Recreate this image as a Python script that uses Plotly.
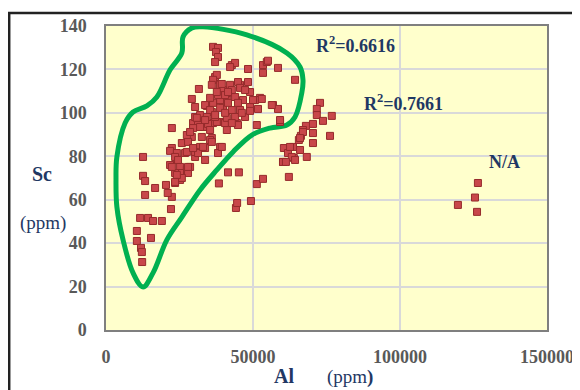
import plotly.graph_objects as go

# Al (ppm) and Sc (ppm) sample values
al = [
    10500, 10500, 11900, 12200, 12300, 15300, 11600, 14300, 16000, 19000, 22100, 22400,
    21000, 13300, 16700, 20400, 23500, 12600, 12600, 13300,
    44200, 44600, 49300, 41500, 45200, 38400, 51300, 53400, 62200, 60200, 22400, 22400, 21800,
    24100, 26900, 24100, 21800, 25200, 27500, 25200, 23500, 25200, 27900, 33700, 30300, 32000,
    33700, 30300, 38800, 36000, 32600, 29200, 27500, 25800, 27900, 35400, 38100, 31300, 27500,
    28600, 25800, 36000, 39400,
    41100, 44500, 39800, 36400, 33700, 31300, 29600, 33300, 31300, 29600, 34700, 37700, 40500,
    44900, 51300, 59200, 30300,
    36400, 38100, 37400, 38100, 37100, 42800, 43900, 42200, 48300, 53400, 54700, 53400, 58500,
    64300, 31600, 29200, 30300, 34300, 36000, 37100, 37700, 36400, 36000, 38800, 42200, 45600,
    44900, 48300, 45600, 49000, 52400, 56800, 58500, 59200, 39800, 41500, 43900, 46600, 44900,
    41100, 38800, 36400, 33700, 35400, 35400, 32000, 30900, 34300, 37100, 39800, 42800, 45600,
    43900, 41100, 47300, 49000, 50700, 51700, 49000, 40500, 42800, 47300, 38100, 55100,
    39400, 37700, 41500, 53000, 56400, 41500, 38800, 37100, 40500, 46200, 33700, 42800,
    32000, 35400, 28600, 29600, 33000, 23500, 24500, 22400, 27900, 24100, 23500, 50000,
    72800, 71700, 71700, 76800, 73800, 70400, 68000, 67000, 70400, 66300, 65600, 70400, 76200,
    60500, 63600, 66000, 63900, 60200, 68300, 61900, 63200, 64300, 61200, 67000, 66000, 62600,
    119700, 125500, 126500, 126200,
]
sc = [
    45.6, 41.0, 37.8, 35.9, 31.3, 42.4, 51.6, 51.6, 50.2, 50.2, 55.7, 61.3,
    63.1, 62.2, 65.4, 66.8, 67.7, 79.7, 71.0, 68.6,
    56.2, 58.5, 59.4, 72.6, 72.6, 67.5, 67.2, 69.6, 70.5, 77.4, 93.0, 83.8, 82.5,
    81.5, 81.5, 78.3, 76.0, 75.1, 73.7, 72.3, 72.3, 69.1, 72.3, 78.3, 79.7, 84.3,
    83.8, 82.0, 84.3, 88.4, 88.9, 88.9, 89.8, 86.1, 86.6, 87.5, 81.5, 81.5, 82.0,
    75.1, 70.0, 86.6, 84.3,
    92.1, 95.3, 95.8, 95.3, 95.3, 95.3, 95.3, 93.5, 94.4, 93.0, 94.9, 95.8, 95.3,
    94.4, 94.4, 95.8, 98.1,
    130.4, 129.9, 128.0, 125.7, 123.4, 122.0, 123.0, 121.1, 120.2, 122.0, 123.4, 118.4, 120.7,
    115.2, 111.0, 106.4, 102.7, 103.2, 100.4, 116.5, 117.5, 115.2, 112.9, 112.9, 112.9, 112.9,
    114.2, 114.2, 111.5, 109.6, 106.9, 103.6, 101.8, 96.7, 110.5, 109.2, 107.3, 105.9, 104.6,
    105.9, 105.9, 104.6, 103.6, 106.9, 101.3, 99.0, 97.7, 98.1, 98.1, 102.3, 101.3, 101.3,
    98.1, 97.7, 98.1, 102.7, 105.9, 101.8, 100.9, 108.2, 110.5, 110.5, 108.2, 124.0,
    113.3, 109.6, 109.6, 106.4, 103.6, 104.6, 102.3, 99.0, 100.0, 100.0, 96.7, 95.3,
    93.5, 92.1, 91.2, 83.8, 84.3, 79.7, 78.3, 75.1, 75.1, 71.4, 68.2, 105.9,
    104.6, 101.8, 99.0, 98.6, 96.3, 94.9, 94.0, 92.1, 90.7, 89.4, 87.5, 86.1, 89.4,
    83.8, 84.3, 82.9, 79.2, 77.4, 79.7, 81.5, 79.7, 78.3, 77.4, 91.2, 88.4, 84.3,
    57.6, 61.0, 67.7, 54.4,
]

# hand-drawn green outline around the main group (Al, Sc)
outline_al = [12600, 9200, 5800, 3700, 3400, 3700, 6500, 9200, 13900, 17300, 21800, 25800,
              26200, 29200, 33000, 47900, 61500, 66000, 67000, 66600, 64300, 61500, 55800,
              49600, 43200, 37700, 32000, 25800, 20700, 16000, 12600]
outline_sc = [19.8, 26.3, 41.5, 56.7, 69.1, 79.7, 95.3, 100.4, 103.2, 107.3, 119.8, 127.6,
              135.0, 139.1, 139.6, 135.9, 127.6, 121.1, 115.2, 109.2, 98.1, 94.4, 93.0,
              89.8, 82.0, 73.7, 64.5, 52.0, 41.5, 26.3, 19.8]

x_ticks = [0, 50000, 100000, 150000]
y_ticks = [0, 20, 40, 60, 80, 100, 120, 140]

navy = "#1F3864"
serif = "Liberation Serif"

fig = go.Figure()
fig.add_trace(go.Scatter(
    x=outline_al, y=outline_sc, mode="lines",
    line=dict(color="#00B050", width=5, shape="spline", smoothing=1.0),
    cliponaxis=False, hoverinfo="skip", showlegend=False))
fig.add_trace(go.Scatter(
    x=al, y=sc, mode="markers",
    marker=dict(symbol="square", size=7, color="#C8474A",
                line=dict(color="#962B2C", width=1)),
    showlegend=False))

# the page body has an 8px margin, so the figure is sized/placed to compensate
fig.update_layout(
    width=572, height=382,
    margin=dict(l=98, r=33, t=18, b=60),
    paper_bgcolor="white", plot_bgcolor="#FFFFCC",
    font=dict(family=serif),
    xaxis=dict(range=[0, 150000], tickvals=x_ticks, ticktext=[str(v) for v in x_ticks],
               showgrid=True, gridcolor="#D9D9D9", gridwidth=1.5, automargin=False,
               showline=True, linecolor="#7F7F7F", linewidth=1.5, mirror=True,
               zeroline=False, ticks="", ticklabelstandoff=10,
               tickfont=dict(family=serif, size=18, color="#595959", weight="bold")),
    yaxis=dict(range=[0, 140], tickvals=y_ticks, automargin=False,
               showgrid=True, gridcolor="#D9D9D9", gridwidth=1.5,
               showline=True, linecolor="#7F7F7F", linewidth=1.5, mirror=True,
               zeroline=False, ticks="", ticklabelstandoff=14,
               tickfont=dict(family=serif, size=18, color="#595959", weight="bold")),
)

fig.add_shape(type="rect", xref="paper", yref="paper",
              x0=-0.2195, x1=1.09, y0=-0.25, y1=1.043,
              line=dict(color="#222222", width=2.5), layer="above")

ann = [
    dict(text="<b>R<sup>2</sup>=0.6616</b>", x=85000, y=131.3, xref="x", yref="y", size=18),
    dict(text="<b>R<sup>2</sup>=0.7661</b>", x=101300, y=104.6, xref="x", yref="y", size=18),
    dict(text="<b>N/A</b>", x=135700, y=77.4, xref="x", yref="y", size=18),
    dict(text="<b>Sc</b>", x=-0.144, y=0.513, xref="paper", yref="paper", size=20),
    dict(text="(ppm)", x=-0.143, y=0.352, xref="paper", yref="paper", size=19),
    dict(text="<b>Al</b>", x=0.404, y=-0.151, xref="paper", yref="paper", size=20),
    dict(text="(ppm<b>)</b>", x=0.553, y=-0.155, xref="paper", yref="paper", size=19),
]
for a in ann:
    fig.add_annotation(text=a["text"], x=a["x"], y=a["y"], xref=a["xref"], yref=a["yref"],
                       showarrow=False, xanchor="center", yanchor="middle",
                       font=dict(family=serif, size=a["size"], color=navy))

fig.write_html("out.html")
